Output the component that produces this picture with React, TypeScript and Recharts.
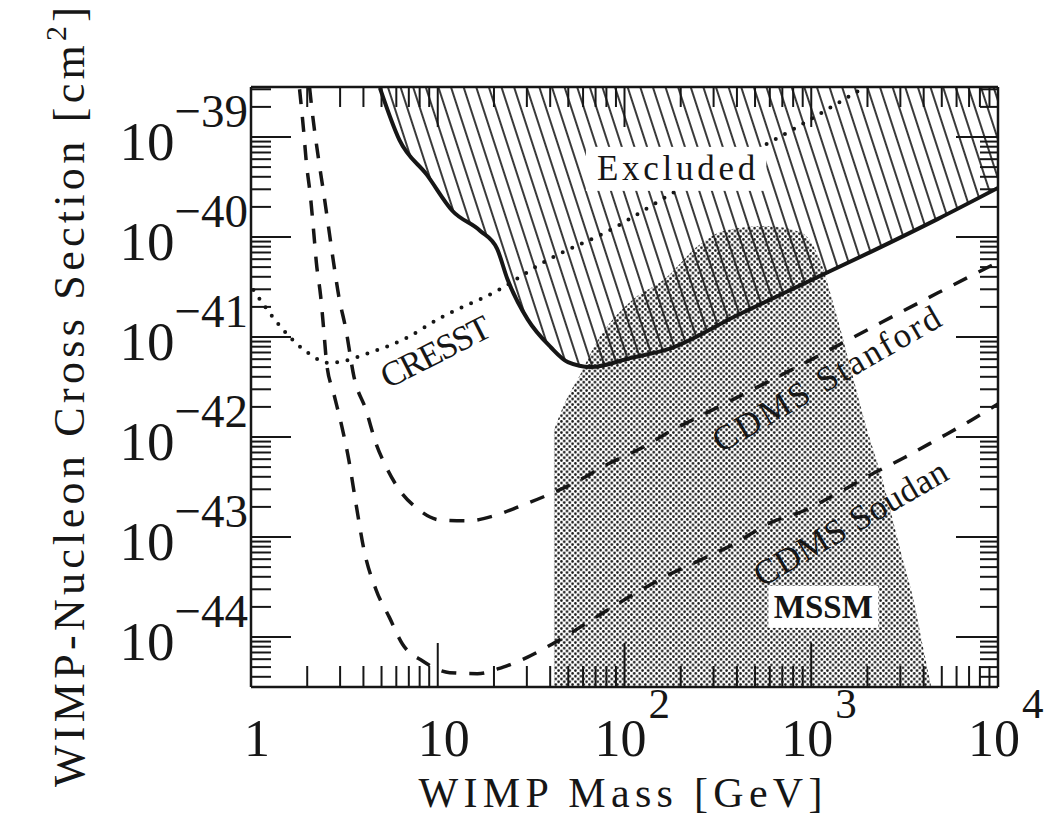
import React from "react";
import { Area, ComposedChart, Line, ReferenceDot, XAxis, YAxis } from "recharts";

const X_MIN = 1;
const X_MAX = 1e4;
const Y_MIN = 10 ** -44.5;
const Y_MAX = 10 ** -38.5;

const ink = "#161616";

// solid curve bounding the excluded region (GeV, cm^2)
const excludedMass = [4.9, 6.24, 8.73, 12.0, 16.9, 20.8, 23.6, 30.3, 40.3, 49.8, 66, 109, 173, 394, 906, 2084, 4742, 10000];
const excludedSigma = [3.1e-39, 9.3e-40, 4.2e-40, 1.82e-40, 1.15e-40, 7.6e-41, 3.8e-41, 1.5e-41, 7.9e-42, 5.6e-42, 5.0e-42, 6.2e-42, 7.6e-42, 1.62e-41, 3.4e-41, 7.1e-41, 1.51e-40, 3.1e-40];

const cresstMass = [1.03, 1.31, 1.63, 2.03, 2.61, 4.46, 6.8, 10.3, 20.8, 38.8, 82, 196, 551, 1365, 1900];
const cresstSigma = [2.95e-41, 1.58e-41, 9.8e-42, 6.9e-42, 5.5e-42, 7.1e-42, 9.8e-42, 1.55e-41, 2.9e-41, 5.9e-41, 1.15e-40, 3.0e-40, 8.1e-40, 2.14e-39, 3.1e-39];

const stanfordMass = [2.06, 2.11, 2.3, 2.45, 2.61, 2.77, 2.95, 3.22, 3.56, 4.13, 4.68, 5.3, 6.24, 7.7, 10.3, 14.4, 19.8, 27.7, 38.8, 53.7, 82, 124, 173, 261, 394, 906, 2084, 4742, 10000];
const stanfordSigma = [3.1e-39, 2.04e-39, 6.0e-40, 2.75e-40, 1.2e-40, 5.5e-41, 2.57e-41, 1.2e-41, 4.0e-42, 1.86e-42, 8.5e-43, 5.0e-43, 2.95e-43, 1.95e-43, 1.48e-43, 1.45e-43, 1.62e-43, 2.04e-43, 2.63e-43, 3.47e-43, 5.4e-43, 7.8e-43, 1.12e-42, 1.66e-42, 2.45e-42, 5.4e-42, 1.23e-41, 2.75e-41, 5.6e-41];

const soudanMass = [1.82, 1.91, 1.98, 2.08, 2.16, 2.24, 2.36, 2.45, 2.54, 2.77, 3.06, 3.34, 3.65, 4.03, 4.68, 5.5, 6.47, 8.3, 11.6, 16.3, 22.4, 30.3, 41.9, 75, 113, 173, 261, 394, 600, 906, 1365, 2084, 3141, 4742, 7228, 10000];
const soudanSigma = [3.0e-39, 1.2e-39, 5.5e-40, 2.57e-40, 1.2e-40, 5.5e-41, 2.57e-41, 1.2e-41, 5.5e-42, 2.75e-42, 1.29e-42, 5.9e-43, 2.14e-43, 7.4e-44, 2.95e-44, 1.58e-44, 8.5e-45, 5.75e-45, 4.4e-45, 4.3e-45, 5.0e-45, 6.3e-45, 8.7e-45, 1.7e-44, 2.7e-44, 4.2e-44, 6.0e-44, 8.7e-44, 1.38e-43, 1.82e-43, 2.7e-43, 4.2e-43, 6.2e-43, 9.5e-43, 1.48e-42, 2.14e-42];

// upper edge of the MSSM region (filled down to the bottom of the plot)
const mssmMass = [41.9, 47.4, 58.6, 68.9, 109, 164, 251, 348, 571, 873, 1119, 1315, 1626, 1910, 2449, 3027, 3556, 4027, 4395];
const mssmUpper = [1.17e-42, 2.1e-42, 4.4e-42, 8.1e-42, 2.3e-41, 3.8e-41, 8.3e-41, 1.17e-40, 1.29e-40, 1.12e-40, 5.75e-41, 2.14e-41, 4.9e-42, 1.55e-42, 3.3e-43, 6.9e-44, 2.2e-44, 6.9e-45, 3.16e-45];

const labelText = ["Excluded", "CRESST", "CDMS Stanford", "CDMS Soudan", "MSSM"];
const labelMass = [189, 9.75, 1205, 1625, 1161];
const labelSigma = [4.8e-40, 7.1e-42, 3.8e-42, 1.38e-43, 2.0e-44];
const labelAngle = [0, -27, -30, -30, 0];
const labelBoxed = [true, false, false, false, true];
const labelBold = [false, false, false, false, true];

const xDecadeStart = 0;
const xDecadeEnd = 4;
const yDecadeStart = -45;
const yDecadeEnd = -39;

const xTicks: number[] = [];
for (let d = xDecadeStart; d < xDecadeEnd; d++) for (let k = 1; k < 10; k++) xTicks.push(k * 10 ** d);
xTicks.push(10 ** xDecadeEnd);

const yTicks: number[] = [];
for (let d = yDecadeStart; d <= yDecadeEnd; d++)
  for (let k = 1; k < 10; k++) {
    const v = k * 10 ** d;
    if (v >= Y_MIN * 0.999 && v <= Y_MAX * 1.001) yTicks.push(v);
  }

const excludedLine = excludedMass.map((m, i) => ({ m, s: excludedSigma[i] }));
const excludedFill = excludedMass.map((m, i) => ({ m, r: [excludedSigma[i], Y_MAX] }));
const cresstData = cresstMass.map((m, i) => ({ m, s: cresstSigma[i] }));
const stanfordData = stanfordMass.map((m, i) => ({ m, s: stanfordSigma[i] }));
const soudanData = soudanMass.map((m, i) => ({ m, s: soudanSigma[i] }));
const mssmFill = mssmMass.map((m, i) => ({ m, r: [Y_MIN, mssmUpper[i]] }));

function isDecade(v: number) {
  const l = Math.log10(v);
  return Math.abs(l - Math.round(l)) < 1e-6;
}

const font = "'Liberation Serif', serif";

function BottomTick(props: any) {
  const { x, y, payload } = props;
  const v = payload.value;
  const major = isDecade(v);
  const e = Math.round(Math.log10(v));
  return (
    <g>
      <line x1={x} x2={x} y1={y} y2={y - (major ? 44 : 21)} stroke={ink} strokeWidth={2} />
      {major && (
        <g fontFamily={font} fill={ink}>
          {e < 2 ? (
            <text x={x + 6} y={y + 69} textAnchor="middle" fontSize={52}>
              {e === 0 ? "1" : "10"}
            </text>
          ) : (
            <>
              <text x={x + 22} y={y + 69} textAnchor="end" fontSize={52}>
                10
              </text>
              <text x={x + 24} y={y + 31} fontSize={43}>
                {e}
              </text>
            </>
          )}
        </g>
      )}
    </g>
  );
}

function TopTick(props: any) {
  const { x, y, payload } = props;
  const major = isDecade(payload.value);
  return <line x1={x} x2={x} y1={y} y2={y + (major ? 40 : 20)} stroke={ink} strokeWidth={2} />;
}

function LeftTick(props: any) {
  const { x, y, payload } = props;
  const v = payload.value;
  const major = isDecade(v);
  const e = Math.round(Math.log10(v));
  return (
    <g>
      <line x1={x} x2={x + (major ? 40 : 20)} y1={y} y2={y} stroke={ink} strokeWidth={2} />
      {major && (
        <text x={x - 3} y={y + 23} textAnchor="end" fontFamily={font} fill={ink}>
          <tspan fontSize={55}>10</tspan>
          <tspan fontSize={47} dy={-33}>{"\u2212" + -e}</tspan>
        </text>
      )}
    </g>
  );
}

function RightTick(props: any) {
  const { x, y, payload } = props;
  const major = isDecade(payload.value);
  return <line x1={x} x2={x - (major ? 42 : 18)} y1={y} y2={y} stroke={ink} strokeWidth={2} />;
}

function XTitle(props: any) {
  const vb = props.viewBox || { x: 251, y: 687, width: 747, height: 1 };
  const cx = vb.x + vb.width / 2 - 4;
  return (
    <text
      x={cx}
      y={807}
      textAnchor="middle"
      fontFamily={font}
      fontSize={42}
      fill={ink}
      textLength={404}
      lengthAdjust="spacing"
    >
      WIMP Mass [GeV]
    </text>
  );
}

function YTitle(props: any) {
  const vb = props.viewBox || { x: 250, y: 87, width: 1, height: 600 };
  const cy = vb.y + vb.height / 2 + 10;
  return (
    <text
      transform={`translate(84,${cy}) rotate(-90)`}
      textAnchor="middle"
      fontFamily={font}
      fontSize={44}
      fill={ink}
      textLength={780}
      lengthAdjust="spacing"
    >
      WIMP-Nucleon Cross Section [cm
      <tspan fontSize={30} dy={-18}>2</tspan>
      <tspan dy={18}>]</tspan>
    </text>
  );
}

function PlotLabel({ cx, cy, text, angle, boxed, bold }: any) {
  const size = bold ? 33 : 35;
  const len = text.length * 19.8;
  const w = bold ? 110 : len + 22;
  const h = bold ? 42 : size + 9;
  return (
    <g transform={`translate(${cx},${cy}) rotate(${angle})`}>
      {boxed && <rect x={-w / 2} y={-h / 2} width={w} height={h} fill="#fff" />}
      <text
        x={0}
        y={0}
        textAnchor="middle"
        dominantBaseline="central"
        fontFamily={font}
        fontSize={size}
        fontWeight={bold ? 700 : 400}
        fill={ink}
        textLength={bold ? undefined : len}
        lengthAdjust="spacing"
      >
        {text}
      </text>
    </g>
  );
}

const frame = { stroke: ink, strokeWidth: 2.5 };

export default function App() {
  return (
    <div style={{ position: "fixed", left: 0, top: 0, width: 1046, height: 817, background: "#fff" }}>
      <svg width={0} height={0} style={{ position: "absolute" }}>
        <defs>
          <pattern id="hatch" patternUnits="userSpaceOnUse" width={12} height={12} patternTransform="rotate(-18)">
            <line x1={6} y1={-1} x2={6} y2={13} stroke={ink} strokeWidth={1.7} />
          </pattern>
          <pattern id="stipple" patternUnits="userSpaceOnUse" width={5.6} height={5.6}>
            <circle cx={1.4} cy={1.4} r={1.3} fill={ink} />
            <circle cx={4.2} cy={4.2} r={1.3} fill={ink} />
          </pattern>
        </defs>
      </svg>
      <ComposedChart width={1046} height={817} margin={{ top: 86, right: 47, bottom: 129, left: 250 }}>
        <XAxis
          xAxisId="b"
          dataKey="m"
          type="number"
          scale="log"
          domain={[X_MIN, X_MAX]}
          allowDataOverflow
          ticks={xTicks}
          interval={0}
          height={1}
          tickSize={0}
          tickMargin={0}
          tickLine={false}
          axisLine={frame}
          tick={BottomTick}
          label={{ content: XTitle }}
        />
        <XAxis
          xAxisId="t"
          orientation="top"
          dataKey="m"
          type="number"
          scale="log"
          domain={[X_MIN, X_MAX]}
          allowDataOverflow
          ticks={xTicks}
          interval={0}
          height={1}
          tickSize={0}
          tickMargin={0}
          tickLine={false}
          axisLine={frame}
          tick={TopTick}
        />
        <YAxis
          yAxisId="l"
          type="number"
          scale="log"
          domain={[Y_MIN, Y_MAX]}
          allowDataOverflow
          ticks={yTicks}
          interval={0}
          width={1}
          tickSize={0}
          tickMargin={0}
          tickLine={false}
          axisLine={frame}
          tick={LeftTick}
          label={{ content: YTitle }}
        />
        <YAxis
          yAxisId="r"
          orientation="right"
          type="number"
          scale="log"
          domain={[Y_MIN, Y_MAX]}
          allowDataOverflow
          ticks={yTicks}
          interval={0}
          width={1}
          tickSize={0}
          tickMargin={0}
          tickLine={false}
          axisLine={frame}
          tick={RightTick}
        />

        <Area
          xAxisId="b"
          yAxisId="l"
          data={mssmFill}
          dataKey="r"
          type="monotone"
          stroke="none"
          fill="url(#stipple)"
          fillOpacity={1}
          isAnimationActive={false}
        />
        <Area
          xAxisId="b"
          yAxisId="l"
          data={excludedFill}
          dataKey="r"
          type="monotone"
          stroke="none"
          fill="url(#hatch)"
          fillOpacity={1}
          isAnimationActive={false}
        />

        {labelText.map((t, i) => (
          <ReferenceDot
            key={t}
            xAxisId="b"
            yAxisId="l"
            x={labelMass[i]}
            y={labelSigma[i]}
            r={0}
            ifOverflow="visible"
            shape={(p: any) => (
              <PlotLabel cx={p.cx} cy={p.cy} text={t} angle={labelAngle[i]} boxed={labelBoxed[i]} bold={labelBold[i]} />
            )}
          />
        ))}

        <Line
          xAxisId="b"
          yAxisId="l"
          data={cresstData}
          dataKey="s"
          type="monotone"
          stroke={ink}
          strokeWidth={4}
          strokeDasharray="0 10.5"
          strokeLinecap="round"
          dot={false}
          isAnimationActive={false}
        />
        <Line
          xAxisId="b"
          yAxisId="l"
          data={stanfordData}
          dataKey="s"
          type="monotone"
          stroke={ink}
          strokeWidth={3.5}
          strokeDasharray="15 13"
          dot={false}
          isAnimationActive={false}
        />
        <Line
          xAxisId="b"
          yAxisId="l"
          data={soudanData}
          dataKey="s"
          type="monotone"
          stroke={ink}
          strokeWidth={3.5}
          strokeDasharray="15 13"
          dot={false}
          isAnimationActive={false}
        />
        <Line
          xAxisId="b"
          yAxisId="l"
          data={excludedLine}
          dataKey="s"
          type="monotone"
          stroke={ink}
          strokeWidth={4}
          dot={false}
          isAnimationActive={false}
        />
      </ComposedChart>
    </div>
  );
}
